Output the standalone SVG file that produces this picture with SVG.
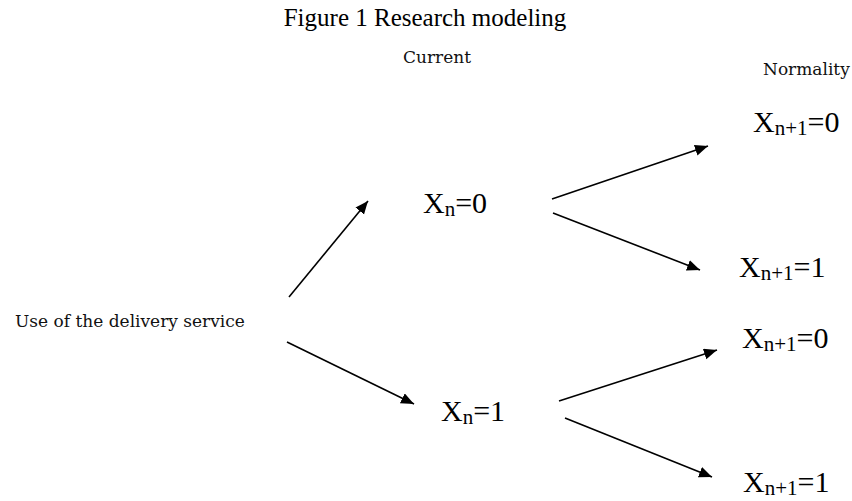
<svg xmlns="http://www.w3.org/2000/svg" width="852" height="501" viewBox="0 0 852 501">
<defs>
<style>
.title{font-family:"Liberation Serif","Times New Roman",serif;font-size:25px;fill:#000}
.small{font-family:"DejaVu Serif",serif;font-size:17px;fill:#111}
.big,.big tspan{font-family:"Liberation Serif","Times New Roman",serif;fill:#000}
.big{font-size:30px}
.big .sub{font-size:21px}
.conn line{stroke:#000;stroke-width:1.6;marker-end:url(#ah)}
</style>
<marker id="ah" markerUnits="userSpaceOnUse" markerWidth="14" markerHeight="12" refX="13" refY="5.5" orient="auto">
<path d="M0,0 L13,5.5 L0,11 z" fill="#000"/>
</marker>
</defs>
<rect width="852" height="501" fill="#fff"/>
<text class="title" x="425" y="26" text-anchor="middle">Figure 1 Research modeling</text>
<g id="current"><text class="small" x="403" y="63">Current</text></g>
<g id="normality"><text class="small" x="763" y="75">Normality</text></g>
<g id="use"><text class="small" x="15" y="327">Use of the delivery service</text></g>
<g id="xn0"><text class="big" font-family="Liberation Serif, serif" x="423" y="213">X<tspan class="sub" dy="3">n</tspan><tspan dy="-3">=0</tspan></text></g>
<g id="xn1"><text class="big" font-family="Liberation Serif, serif" x="441" y="421">X<tspan class="sub" dy="3">n</tspan><tspan dy="-3">=1</tspan></text></g>
<g id="a0"><text class="big" font-family="Liberation Serif, serif" x="753" y="132">X<tspan class="sub" dy="3">n+1</tspan><tspan dy="-3">=0</tspan></text></g>
<g id="a1"><text class="big" font-family="Liberation Serif, serif" x="739" y="277">X<tspan class="sub" dy="3">n+1</tspan><tspan dy="-3">=1</tspan></text></g>
<g id="b0"><text class="big" font-family="Liberation Serif, serif" x="742" y="348">X<tspan class="sub" dy="3">n+1</tspan><tspan dy="-3">=0</tspan></text></g>
<g id="b1"><text class="big" font-family="Liberation Serif, serif" x="743" y="492">X<tspan class="sub" dy="3">n+1</tspan><tspan dy="-3">=1</tspan></text></g>
<g id="connectors" class="conn">
<line x1="289" y1="297" x2="368" y2="201"/>
<line x1="552" y1="199" x2="708" y2="146"/>
<line x1="553" y1="213" x2="700" y2="270"/>
<line x1="287" y1="342" x2="414" y2="404"/>
<line x1="559" y1="401" x2="717" y2="350"/>
<line x1="565" y1="418" x2="712" y2="477"/>
</g>
</svg>
